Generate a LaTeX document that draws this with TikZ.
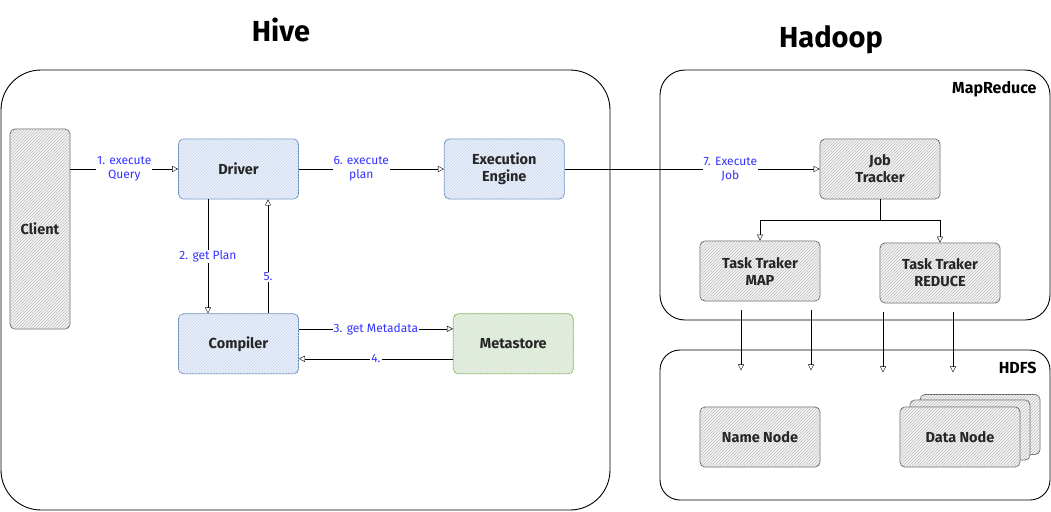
\documentclass[tikz,border=0pt]{standalone}
\usepackage{fontspec}
\setmainfont{Fira Sans}
\usetikzlibrary{arrows.meta, positioning, patterns}
\definecolor{hiveblue}{HTML}{6C8EBF}
\definecolor{hivefill}{HTML}{DAE8FC}
\definecolor{metagreen}{HTML}{82B366}
\definecolor{metafill}{HTML}{D5E8D4}
\definecolor{sketchgray}{HTML}{666666}
\definecolor{grayfill}{HTML}{F5F5F5}
\definecolor{labelblue}{HTML}{3333FF}
\tikzset{
comp/.style={
    rectangle,
    rounded corners=5pt,
    minimum width=120pt,
    minimum height=60pt,
    align=center,
    line width=0.8pt,
    text=black!85,
    font=\bfseries\fontsize{14.5}{17}\selectfont
},
hivebox/.style={comp, draw=hiveblue, fill=hivefill!60,
    postaction={pattern=north east lines, pattern color=hiveblue!35}},
metabox/.style={comp, draw=metagreen, fill=metafill!60,
    postaction={pattern=north east lines, pattern color=metagreen!35}},
graybox/.style={comp, draw=sketchgray, fill=grayfill,
    postaction={pattern=north east lines, pattern color=black!25}},
container/.style={draw=black, line width=0.9pt},
steplabel/.style={fill=white, inner sep=1pt, align=center, text=labelblue,
    font=\fontsize{12}{14}\selectfont},
title/.style={font=\bfseries\fontsize{29}{31}\selectfont},
corner/.style={font=\bfseries\fontsize{16}{18}\selectfont}
}

\begin{document}
\begin{tikzpicture}[
        x=1pt, y=-1pt,
        >={Triangle[open, length=6pt, width=6pt]},
        node distance=114pt and 145pt
    ]
    \useasboundingbox (0,0) rectangle (1051,511);

    % containers
    \draw[container, rounded corners=40pt] (1,70) rectangle (610,510);
    \draw[container, rounded corners=25pt] (660,70) rectangle (1050,320);
    \draw[container, rounded corners=20pt] (660,350) rectangle (1050,500);

    % titles
    \node[title] (hive) at (281,30) {Hive};
    \node[title] (hadoop) at (831,40) {Hadoop};
    \node[corner, anchor=east] (mrlabel) at (1040,89) {MapReduce};
    \node[corner, anchor=east] (hdfslabel) at (1040,368) {HDFS};

    % hive nodes
    \node[graybox, minimum width=60pt, minimum height=200pt] (client) at (40,229) {Client};
    \node[hivebox] (driver) at (238.5,169) {Driver};
    \node[hivebox, right=of driver] (engine) {Execution\\Engine};
    \node[hivebox, below=of driver] (compiler) {Compiler};
    \node[metabox, right=154pt of compiler] (metastore) {Metastore};

    % hadoop nodes
    \node[graybox] (jobtracker) at (880,169) {Job\\Tracker};
    \node[graybox] (taskmap) at (760,271) {Task Traker\\MAP};
    \node[graybox] (taskreduce) at (940,273) {Task Traker\\REDUCE};
    \node[graybox] (namenode) at (760,437) {Name Node};
    \node[graybox] (datanodeC) at (980,424.5) {};
    \node[graybox] (datanodeB) at (970,430) {};
    \node[graybox] (datanodeA) at (960,437) {Data Node};

    % edges
    \draw[->] (client.east |- driver.west) -- node[steplabel] {1. execute\\Query} (driver.west);
    \draw[->] (driver.east) -- node[steplabel, pos=0.43] {6. execute\\plan} (engine.west);
    \draw[->] (engine.east) -- node[steplabel, pos=0.65] {7. Execute\\Job} (jobtracker.west);
    \draw[->] ([xshift=-30.5pt]driver.south) -- node[steplabel] {2. get Plan} ([xshift=-30.5pt]compiler.north);
    \draw[->] ([xshift=29.5pt]compiler.north) -- node[steplabel, pos=0.32] {5.} ([xshift=29.5pt]driver.south);
    \draw[->] ([yshift=15pt]compiler.east) -- node[steplabel] {3. get Metadata} ([yshift=15pt]metastore.west);
    \draw[->] ([yshift=-15pt]metastore.west) -- node[steplabel] {4.} ([yshift=-15pt]compiler.east);

    \draw[->] (jobtracker.south) -- ++(0,21) -| (taskmap.north);
    \draw[->] (jobtracker.south) -- ++(0,21) -| (taskreduce.north);

    % into hdfs
    \foreach \task/\dx/\name in {taskmap/-19/a, taskmap/51/b, taskreduce/-57/c, taskreduce/13/d} {
        \coordinate (hdfs\name) at ([xshift=\dx pt, yshift=-69pt]\task.south);
        \draw[->] ([xshift=\dx pt, yshift=-9pt]\task.south) -- (hdfs\name);
    }

\end{tikzpicture}
\end{document}
